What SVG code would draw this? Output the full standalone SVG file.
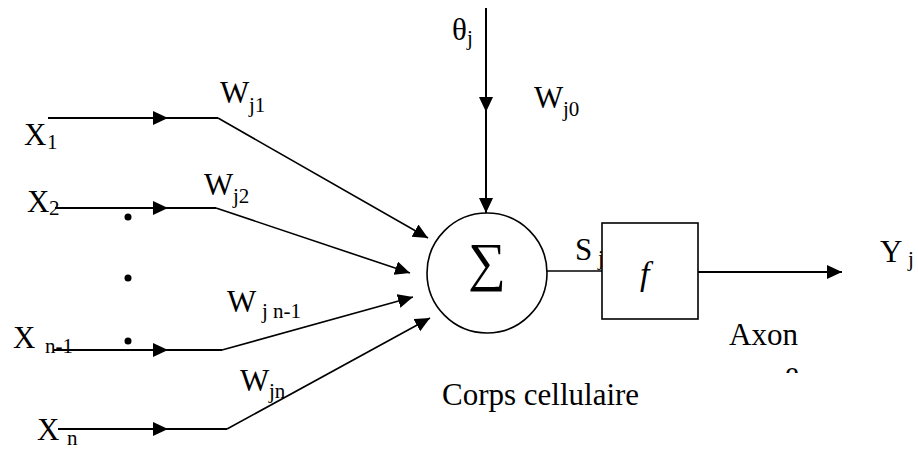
<svg xmlns="http://www.w3.org/2000/svg" width="918" height="449" viewBox="0 0 918 449">
<style>
text{font-family:"Liberation Serif","Times New Roman",serif;fill:#000}
.m{font-size:31px}
.s{font-size:21px}
.ln{fill:none;stroke:#000;stroke-width:2}
.dg{fill:none;stroke:#000;stroke-width:1.6}
</style>
<defs>
<marker id="ah" markerUnits="userSpaceOnUse" markerWidth="16" markerHeight="16" refX="15" refY="7" orient="auto">
<path d="M0,0 L15,7 L0,14 z" fill="#000"/>
</marker>
<clipPath id="cp"><rect x="770" y="360" width="40" height="13"/></clipPath>
</defs>
<rect width="918" height="449" fill="#fff"/>
<g id="connectors">
<path class="ln" d="M48,118 H168 H218" marker-mid="url(#ah)"/>
<path class="dg" d="M218,118 L428,238" marker-end="url(#ah)"/>
<path class="ln" d="M55,208 H168 H216" marker-mid="url(#ah)"/>
<path class="dg" d="M216,208 L410,273" marker-end="url(#ah)"/>
<path class="ln" d="M53,350 H168 H222" marker-mid="url(#ah)"/>
<path class="dg" d="M222,350 L413,297" marker-end="url(#ah)"/>
<path class="ln" d="M58,429 H168 H227" marker-mid="url(#ah)"/>
<path class="dg" d="M227,429 L430,318" marker-end="url(#ah)"/>
<path class="ln" d="M486,8 V112 V213" marker-mid="url(#ah)" marker-end="url(#ah)"/>
<path class="dg" d="M547,271 H602"/>
<path class="ln" d="M698,272 H842" marker-end="url(#ah)"/>
</g>
<g id="dots">
<circle cx="128" cy="217" r="3.5"/>
<circle cx="128" cy="278" r="3.5"/>
<circle cx="128" cy="341" r="3.5"/>
</g>
<g id="x1"><text class="m" x="24" y="145">X</text><text class="s" x="47" y="149">1</text></g>
<g id="x2"><text class="m" x="27" y="212">X</text><text class="s" x="49" y="215">2</text></g>
<g id="xn1"><text class="m" x="13" y="348">X</text><text class="s" x="45" y="353">n-1</text></g>
<g id="xn"><text class="m" x="37" y="440">X</text><text class="s" x="67" y="445">n</text></g>
<g id="wj1"><text class="m" x="220" y="103">W</text><text class="s" x="249" y="112">j1</text></g>
<g id="wj2"><text class="m" x="204" y="195">W</text><text class="s" x="233" y="203">j2</text></g>
<g id="wjn1"><text class="m" x="227" y="312">W</text><text class="s" x="262" y="318">j n-1</text></g>
<g id="wjn"><text class="m" x="240" y="391">W</text><text class="s" x="269" y="398">jn</text></g>
<g id="theta"><text class="m" x="452" y="40">θ</text><text class="s" x="467" y="45">j</text></g>
<g id="wj0"><text class="m" x="534" y="108">W</text><text class="s" x="563" y="116">j0</text></g>
<g id="sum">
<circle cx="487" cy="273" r="60" fill="none" stroke="#000" stroke-width="1.6"/>
<text x="487" y="280" font-size="53" text-anchor="middle">∑</text>
</g>
<g id="sj"><text class="m" x="575" y="260">S</text><text class="s" x="598" y="265">j</text></g>
<g id="f">
<rect x="602" y="223" width="96" height="96" fill="#fff" stroke="#000" stroke-width="1.6"/>
<text x="640" y="285" font-size="34" font-style="italic">f</text>
</g>
<g id="yj"><text class="m" x="880" y="262">Y</text><text class="s" x="908" y="266">j</text></g>
<g id="axon"><text class="m" x="729" y="345">Axon</text>
<text class="m" x="785" y="383" clip-path="url(#cp)">e</text></g>
<g id="corps"><text class="m" x="442" y="405">Corps cellulaire</text></g>
</svg>
